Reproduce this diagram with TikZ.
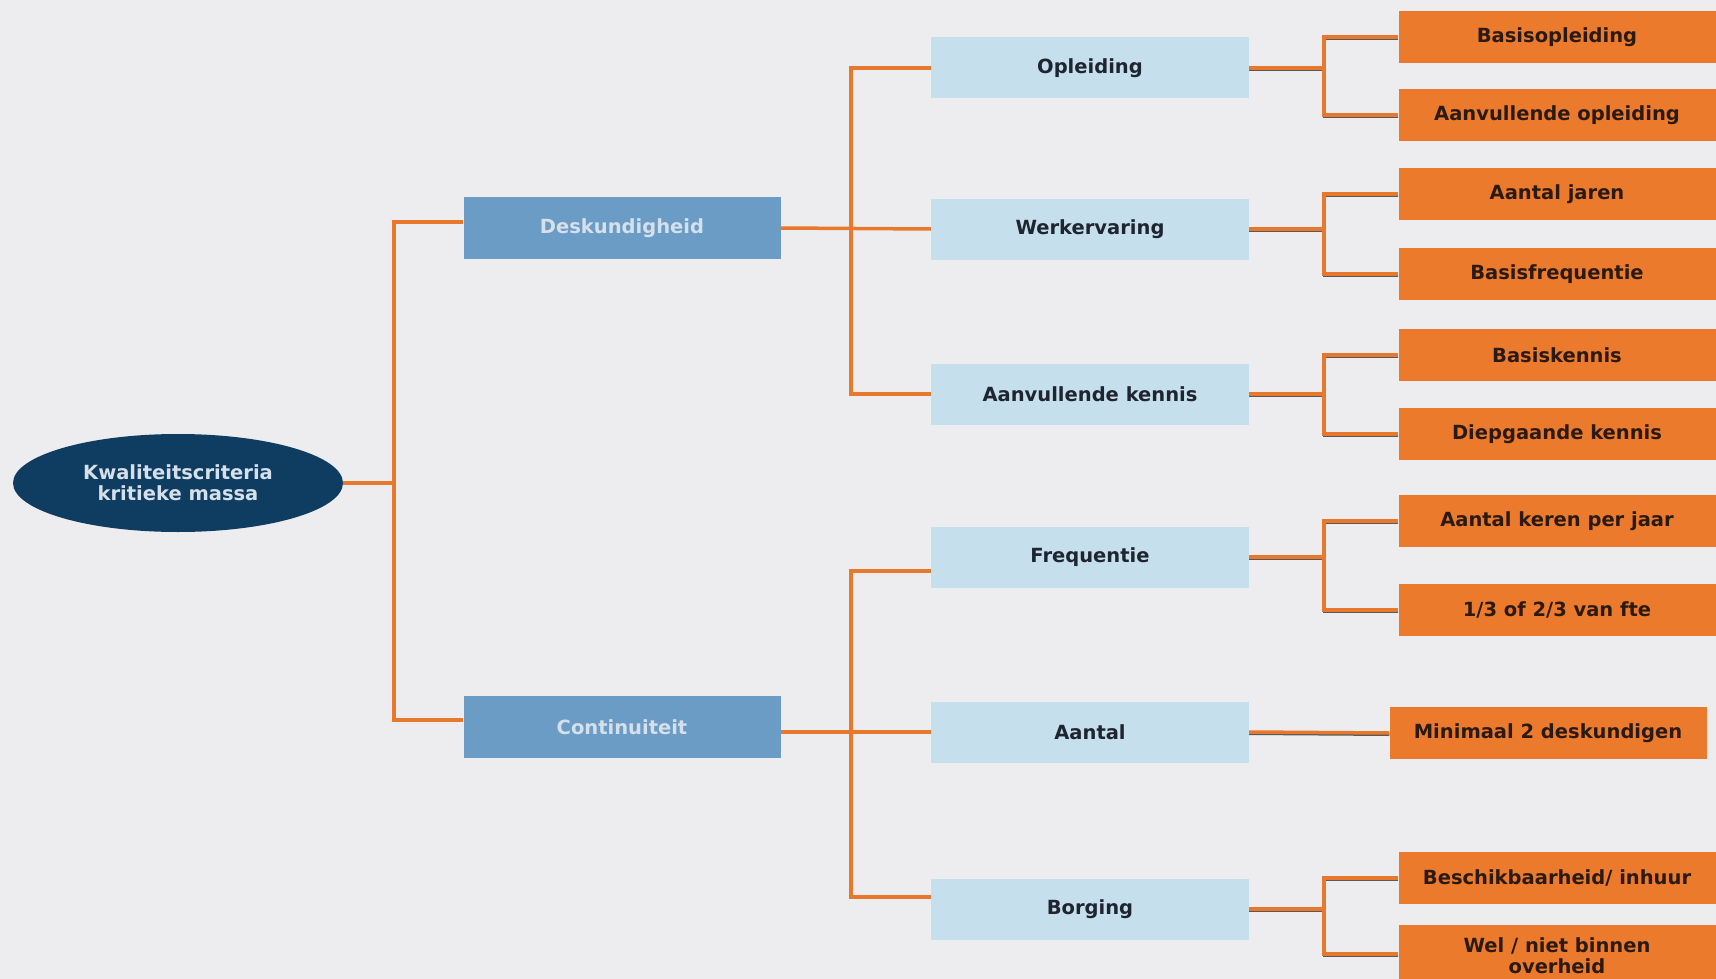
\documentclass[tikz,border=0pt]{standalone}
\usepackage{fontspec}
\setmainfont{DejaVu Sans}
\usetikzlibrary{shapes.geometric}
\definecolor{bg}{HTML}{EDEDEF}
\definecolor{navy}{HTML}{0F3D62}
\definecolor{midblue}{HTML}{6A9CC6}
\definecolor{lightblue}{HTML}{C5DFEC}
\definecolor{orng}{HTML}{EC7A2C}
\definecolor{lineor}{HTML}{E8782C}
\definecolor{darktxt}{HTML}{1E2430}
\definecolor{browntxt}{HTML}{2A1A12}
\definecolor{paletxt}{HTML}{D6E0EA}
\tikzset{
  txt/.style={font=\fontsize{19.5}{21}\selectfont\bfseries, align=center, inner sep=0pt},
  rootbox/.style={txt, ellipse, fill=navy, text=paletxt, minimum width=330pt, minimum height=98pt},
  l1box/.style={txt, rectangle, fill=midblue, text=paletxt, minimum width=317pt, minimum height=62pt},
  l2box/.style={txt, rectangle, fill=lightblue, text=darktxt, minimum width=318pt, minimum height=61pt},
  l3box/.style={txt, rectangle, fill=orng, text=browntxt, minimum width=317pt, minimum height=52pt},
  conn/.style={draw=lineor, line width=3.5pt},
  conns/.style={draw=lineor, line width=3.5pt, preaction={draw=black!65, line width=3pt, transform canvas={yshift=-1.5pt}}},
}
\begin{document}
\begin{tikzpicture}[x=1pt,y=-1pt]
\useasboundingbox (0,0) rectangle (1716,979);
\fill[bg] (0,0) rectangle (1716,979);
\clip (0,0) rectangle (1716,979);

% root
\node[rootbox] (root) at (178,483) {Kwaliteitscriteria\\kritieke massa};

% level 1
\node[l1box] (desk) at (622,228) {Deskundigheid};
\node[l1box] (cont) at (622,727) {Continuiteit};

% level 2
\node[l2box] (opl)  at (1090,68)  {Opleiding};
\node[l2box] (werk) at (1090,229) {Werkervaring};
\node[l2box] (aank) at (1090,394) {Aanvullende kennis};
\node[l2box] (freq) at (1090,557) {Frequentie};
\node[l2box] (aant) at (1090,732) {Aantal};
\node[l2box] (borg) at (1090,909) {Borging};

% level 3
\node[l3box] (o1)  at (1557,37)  {Basisopleiding};
\node[l3box] (o2)  at (1557,115) {Aanvullende opleiding};
\node[l3box] (o3)  at (1557,194) {Aantal jaren};
\node[l3box] (o4)  at (1557,274) {Basisfrequentie};
\node[l3box] (o5)  at (1557,355) {Basiskennis};
\node[l3box] (o6)  at (1557,434) {Diepgaande kennis};
\node[l3box] (o7)  at (1557,521) {Aantal keren per jaar};
\node[l3box] (o8)  at (1557,610) {1/3 of 2/3 van fte};
\node[l3box] (o9)  at (1548,733) {Minimaal 2 deskundigen};
\node[l3box] (o10) at (1557,878) {Beschikbaarheid/ inhuur};
\node[l3box, minimum height=62pt] (o11) at (1557,956) {Wel / niet binnen\\overheid};

% root connectors
\coordinate (b0) at (394,483);
\draw[conn] (root.east) -- (b0);
\draw[conn] ([yshift=6pt]desk.west) -| (b0);
\draw[conn] ([yshift=7pt]cont.west) -| (b0);

% Deskundigheid group
\coordinate (b1) at (851,229);
\draw[conn] (desk.east) -- (werk.west);
\draw[conn] (opl.west) -| (b1);
\draw[conn] (aank.west) -| (b1);

% Continuiteit group
\coordinate (b2) at (851,732);
\draw[conn] ([yshift=-5pt]cont.east) -- (aant.west);
\draw[conn] ([yshift=-14pt]freq.west) -| (b2);
\draw[conn] ([yshift=12pt]borg.west) -| (b2);

% level 3 connectors
\draw[conns] (opl.east) -- ++(75,0) coordinate (j1);
\draw[conns] (o1.west) -| (j1);
\draw[conns] (o2.west) -| (j1);

\draw[conns] (werk.east) -- ++(75,0) coordinate (j2);
\draw[conns] (o3.west) -| (j2);
\draw[conns] (o4.west) -| (j2);

\draw[conns] (aank.east) -- ++(75,0) coordinate (j3);
\draw[conns] (o5.west) -| (j3);
\draw[conns] (o6.west) -| (j3);

\draw[conns] (freq.east) -- ++(75,0) coordinate (j4);
\draw[conns] (o7.west) -| (j4);
\draw[conns] (o8.west) -| (j4);

\draw[conns] (aant.east) -- (o9.west);

\draw[conns] (borg.east) -- ++(75,0) coordinate (j6);
\draw[conns] (o10.west) -| (j6);
\draw[conns] ([yshift=2pt]o11.west) -| (j6);
\end{tikzpicture}
\end{document}
